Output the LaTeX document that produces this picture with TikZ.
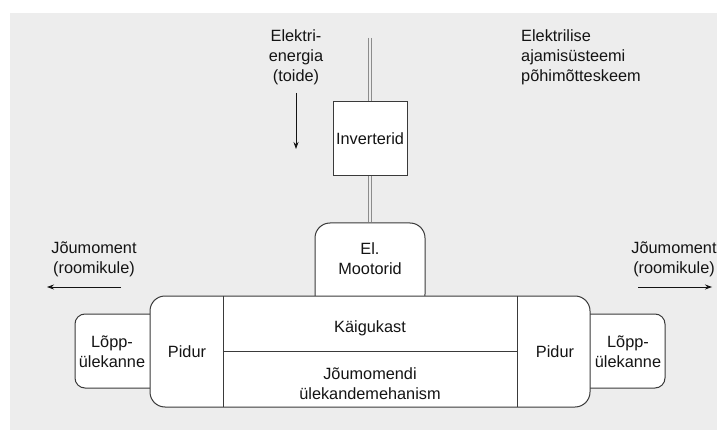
\documentclass[tikz,border=0pt]{standalone}
\usepackage{fontspec}
\setmainfont{Liberation Sans}
\usetikzlibrary{arrows.meta}
\definecolor{bg}{HTML}{EDEDED}
\definecolor{edge}{HTML}{3A3A3A}
\definecolor{wire}{HTML}{8C8C8C}
\definecolor{ink}{HTML}{141414}

\begin{document}
\begin{tikzpicture}[x=1pt,y=-1pt,
  font=\fontsize{16.3}{20}\selectfont,
  box/.style={draw=edge, fill=white, line width=1pt, inner sep=0pt},
  cell/.style={inner sep=0pt},
  lbl/.style={align=center, inner sep=0pt, text=ink},
  flow/.style={draw=ink, line width=0.8pt, -{Stealth[length=7pt,width=5pt]}},
  wireline/.style={draw=wire, line width=0.8pt}]
\useasboundingbox (0,0) rectangle (717,430);
\fill[white] (0,0) rectangle (717,430);
\fill[bg] (10,13) rectangle (717,430);

% final drives, partly behind the main housing
\node[box, rounded corners=10pt, minimum width=90pt, minimum height=74pt] (lopL) at (120,351) {};
\node[box, rounded corners=10pt, minimum width=90pt, minimum height=74pt] (lopR) at (620,351) {};

% electric motors, lower edge hidden by the housing
\node[box, rounded corners=15pt, minimum width=110pt, minimum height=86pt] (mot) at (370,266) {};

% main housing
\node[box, rounded corners=15pt, minimum width=440pt, minimum height=111pt] (main) at (370,351.5) {};

% cells inside the housing
\node[cell, minimum width=73pt, minimum height=111pt] (pidL) at (186.5,351.5) {};
\node[cell, minimum width=72pt, minimum height=111pt] (pidR) at (554,351.5) {};
\node[cell, minimum width=295pt, minimum height=55pt] (kaig) at (370.5,323.5) {};
\draw[draw=edge, line width=1pt] (pidL.north east) -- (pidL.south east);
\draw[draw=edge, line width=1pt] (pidR.north west) -- (pidR.south west);
\draw[draw=edge, line width=1pt] (kaig.south west) -- (kaig.south east);

% inverters and supply wire
\node[box, minimum width=74pt, minimum height=74pt, text=ink] (inv) at (370,139) {Inverterid};
\coordinate (feed) at (370,38);
\draw[wireline] ([xshift=-1.5pt]feed) -- ([xshift=-1.5pt]inv.north);
\draw[wireline] ([xshift=1.5pt]feed) -- ([xshift=1.5pt]inv.north);
\draw[wireline] ([xshift=-1.5pt]inv.south) -- ([xshift=-1.5pt]mot.north);
\draw[wireline] ([xshift=1.5pt]inv.south) -- ([xshift=1.5pt]mot.north);

% labels
\node[lbl] (tEnergy) at (296,57) {Elektri-\\energia\\(toide)};
\node[lbl, align=left, anchor=west] (tTitle) at (521,57) {Elektrilise\\ajamisüsteemi\\põhimõtteskeem};
\node[lbl] (tMot) at (370,259) {El.\\Mootorid};
\node[lbl] (tKaig) at (370,328) {Käigukast};
\node[lbl] (tMeh) at (370,384) {Jõumomendi\\ülekandemehanism};
\node[lbl] (tPidL) at (187,352) {Pidur};
\node[lbl] (tPidR) at (555,352) {Pidur};
\node[lbl] (tLopL) at (112,352) {Lõpp-\\ülekanne};
\node[lbl] (tLopR) at (628,352) {Lõpp-\\ülekanne};
\node[lbl] (tMomL) at (94,259) {Jõumoment\\(roomikule)};
\node[lbl] (tMomR) at (674,259) {Jõumoment\\(roomikule)};

% flow arrows
\coordinate (eA) at (296,93);
\coordinate (eB) at (296,149);
\draw[flow] (eA) -- (eB);
\coordinate (lA) at (121,287);
\coordinate (lB) at (47,287);
\draw[flow] (lA) -- (lB);
\coordinate (rA) at (638,287);
\coordinate (rB) at (712,287);
\draw[flow] (rA) -- (rB);
\end{tikzpicture}
\end{document}
